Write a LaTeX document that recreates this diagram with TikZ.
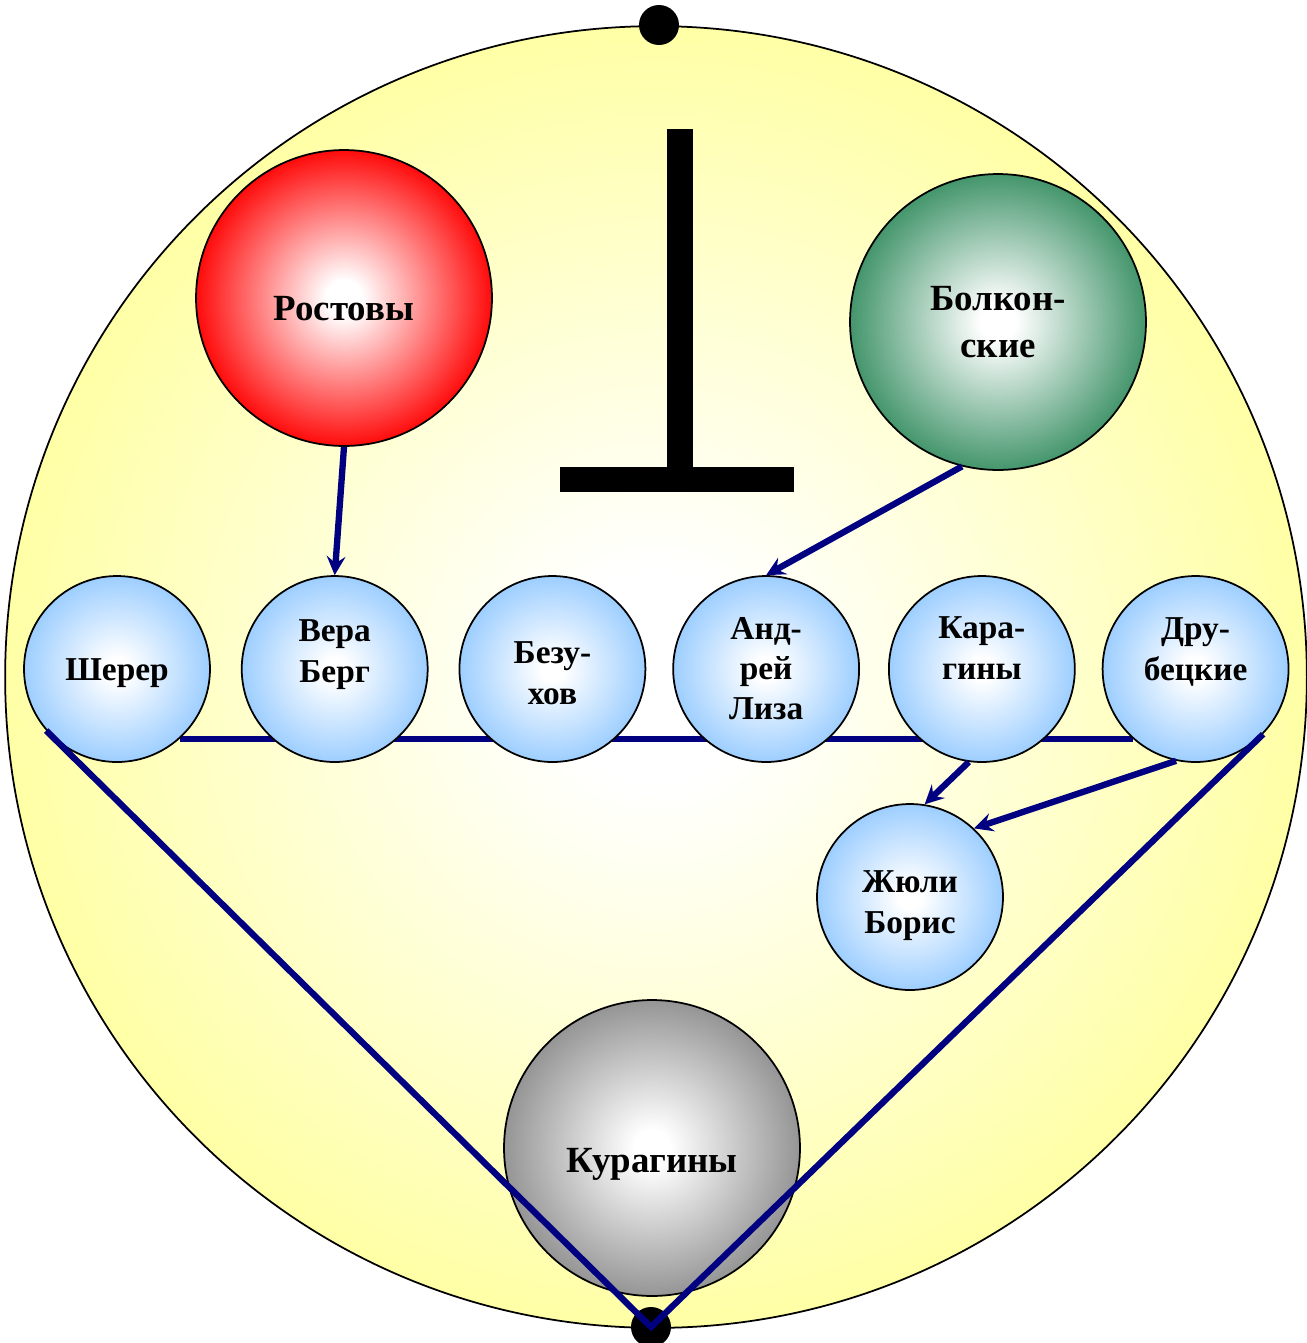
\documentclass[tikz,border=0pt]{standalone}
\usepackage{fontspec}
\setmainfont{Liberation Serif}
\usepackage{xcolor}
\usepackage{tikz}
\usetikzlibrary{positioning, backgrounds}
\definecolor{linkblue}{RGB}{0,0,128}
\definecolor{fieldyellow}{RGB}{255,255,153}
\definecolor{memberblue}{RGB}{153,204,255}
\definecolor{boldgreen}{RGB}{51,140,95}
\definecolor{kuragray}{RGB}{125,125,125}
\pgfdeclareradialshading{fieldshade}{\pgfpoint{0bp}{0bp}}{color(0bp)=(white); color(4bp)=(white); color(28bp)=(fieldyellow); color(50bp)=(fieldyellow)}
\pgfdeclareradialshading{blueball}{\pgfpoint{0bp}{0bp}}{color(0bp)=(white); color(3bp)=(white); color(26bp)=(memberblue); color(50bp)=(memberblue)}
\pgfdeclareradialshading{redball}{\pgfpoint{0bp}{0bp}}{color(0bp)=(white); color(3bp)=(white); color(26bp)=(red); color(50bp)=(red)}
\pgfdeclareradialshading{greenball}{\pgfpoint{0bp}{0bp}}{color(0bp)=(white); color(3bp)=(white); color(27bp)=(boldgreen); color(50bp)=(boldgreen)}
\pgfdeclareradialshading{grayball}{\pgfpoint{0bp}{0bp}}{color(0bp)=(white); color(3bp)=(white); color(30bp)=(kuragray); color(50bp)=(kuragray)}
% move the text inside a circle up or down, the circle stays
\newcommand{\shifttext}[2]{\raisebox{#1}[\height][\depth]{\begin{tabular}{@{}c@{}}#2\end{tabular}}}
\tikzstyle{family} = [circle, draw=black, line width=1pt, minimum size=5.92cm, inner sep=0pt, shade, align=center, font=\fontsize{21}{27}\selectfont\bfseries]
\tikzstyle{member} = [circle, draw=black, line width=1pt, minimum size=3.72cm, inner sep=0pt, shade, shading=blueball, align=center, font=\fontsize{19}{22.8}\selectfont\bfseries]
\tikzstyle{link} = [draw=linkblue, line width=3.6pt]
\tikzstyle{dot} = [circle, fill=black, minimum size=0.8cm, inner sep=0pt]

\begin{document}
\begin{tikzpicture}[x=0.02cm, y=-0.02cm]
		\useasboundingbox (0,0) rectangle (1307,1343);
		\node (Sherer)[member] at (117,669){\shifttext{-0.06cm}{Шерер}};
		\node (Vera Berg)[member, right = 0.6cm of Sherer]{\shifttext{0.3cm}{Вера\\Берг}};
		\node (Bezukhov)[member, right = 0.6cm of Vera Berg]{\shifttext{-0.14cm}{Безу-\\хов}};
		\node (Andrey Lisa)[member, right = 0.52cm of Bezukhov]{Анд-\\рей\\Лиза};
		\node (Karaginy)[member, right = 0.56cm of Andrey Lisa]{\shifttext{0.36cm}{Кара-\\гины}};
		\node (Drubetskie)[member, right = 0.52cm of Karaginy]{\shifttext{0.34cm}{Дру-\\бецкие}};
		\node (Juli Boris)[member] at (910,897){\shifttext{-0.16cm}{Жюли\\Борис}};
		\begin{pgfonlayer}{background}
			\node (Field)[circle, draw=black, line width=1pt, minimum size=26.04cm, shade, shading=fieldshade] at (656,677){};
			\draw [link] (Sherer.-48) -- (Drubetskie.-132);
		\end{pgfonlayer}
		\node (Top Dot)[dot] at (659,25){};
		\node (Bottom Dot)[dot] at (651,1327){};
		\node (Rostovy)[family, shading=redball] at (344,298){\shifttext{-0.26cm}{Ростовы}};
		\node (Bolkonskie)[family, shading=greenball] at (998,322){Болкон-\\ские};
		\node (Kuraginy)[family, shading=grayball] at (652,1148){\shifttext{-0.3cm}{Курагины}};
		% perpendicular sign
		\fill (667,129) rectangle (693,480);
		\fill (560,467) rectangle (794,492);
		\draw [link, -stealth] (Rostovy.south) -- (Vera Berg.north);
		\draw [link, -stealth] (Bolkonskie.-104) -- (Andrey Lisa.north);
		\draw [link, -stealth] (Karaginy.-98) -- (Juli Boris.81);
		\draw [link, -stealth] (Drubetskie.-102) -- (Juli Boris.47);
		\draw [link] (Sherer.221) -- (Bottom Dot.center) -- (Drubetskie.-44);
	\end{tikzpicture}
\end{document}
